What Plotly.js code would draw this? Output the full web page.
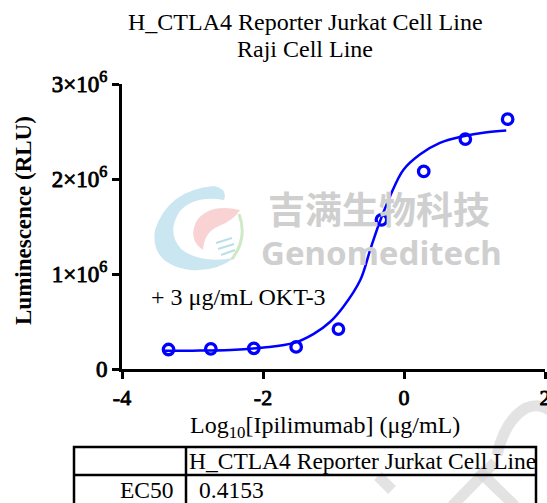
<!DOCTYPE html>
<html>
<head>
<meta charset="utf-8">
<script src="https://cdn.plot.ly/plotly-3.0.1.min.js"></script>
<style>
html,body{margin:0;padding:0;background:#fff;}
#chart{width:547px;height:503px;}
/* faux bold for serif tick labels */
#chart .xtick text, #chart .ytick text { stroke:#000; stroke-width:0.9px; stroke-linejoin:round; }
</style>
</head>
<body>
<div id="chart"></div>
<script>
// ---- data ----
var doseLog = [-3.34, -2.74, -2.13, -1.53, -0.93, -0.32, 0.28, 0.87, 1.47];
var luminescence = [205000, 212000, 218000, 232000, 420000, 1570000, 2080000, 2420000, 2630000];
var fitLog = [-3.42, -3.0, -2.46, -1.99, -1.56, -1.28, -1.05, -0.86, -0.62, -0.48, -0.36, -0.2, -0.01, 0.23, 0.51, 0.84, 1.15, 1.45];
var fitLum = [192000, 193000, 200000, 226000, 275000, 370000, 495000, 656000, 937000, 1253000, 1516000, 1814000, 2095000, 2260000, 2380000, 2450000, 2490000, 2510000];
var yTickVals = [0, 1000000, 2000000, 3000000];
var yTickText = ["0", "1×10<sup>6</sup>", "2×10<sup>6</sup>", "3×10<sup>6</sup>"];
var xTickVals = [-4, -2, 0, 2];
var xTickText = ["-4", "-2", "0", "2"];
var titleLines = ["H_CTLA4 Reporter Jurkat Cell Line", "Raji Cell Line"];
var xTitle = "Log<sub>10</sub>[Ipilimumab] (μg/mL)";
var yTitle = "Luminescence (RLU)";
var tableHeader = ["", "H_CTLA4 Reporter Jurkat Cell Line"];
var tableRowLabels = ["EC50"];
var tableRowValues = ["0.4153"];

// ---- layout geometry (pixels) ----
var W = 547, H = 503;
var L = 122, R = 2, T = 84, B = 134;
var pw = W - L - R, ph = H - T - B;
function px(x){ return (x - L) / pw; }
function py(y){ return (H - B - y) / ph; }
function path(pts){
  return pts.map(function(p, i){ return (i ? 'L' : 'M') + px(p[0]).toFixed(4) + ',' + py(p[1]).toFixed(4); }).join(' ');
}
function qpath(cmds){
  return cmds.map(function(c){
    var s = c[0];
    for (var i = 1; i < c.length; i += 2) s += (i > 1 ? ' ' : '') + px(c[i]).toFixed(4) + ',' + py(c[i+1]).toFixed(4);
    return s;
  }).join(' ');
}

var serif = "Liberation Serif";
var shapes = [];
var annotations = [];

// watermark logo (approximate)
shapes.push({type:'path', xref:'paper', yref:'paper', layer:'below', line:{width:0},
  fillcolor:'rgba(150,205,225,0.5)',
  path: qpath([['M',214,186],['Q',168,190,155,230],['Q',150,264,190,270],['Q',216,272,234,258],['Q',200,264,181,249],['Q',166,232,180,211],['Q',195,195,224,200],['Q',228,189,214,186],['Z']])});
shapes.push({type:'path', xref:'paper', yref:'paper', layer:'below', line:{width:0},
  fillcolor:'rgba(240,150,150,0.42)',
  path: qpath([['M',240,210],['Q',208,203,196,222],['Q',188,240,203,250],['Q',204,232,219,226],['Q',234,220,240,210],['Z']])});
shapes.push({type:'path', xref:'paper', yref:'paper', layer:'below', line:{color:'rgba(170,215,150,0.55)', width:3},
  path: qpath([['M',239,214],['Q',248,238,232,259]])});
shapes.push({type:'path', xref:'paper', yref:'paper', layer:'below', line:{color:'rgba(150,205,225,0.65)', width:2},
  path: path([[216,243],[232,238]]) + ' ' + path([[218,249],[234,244]]) + ' ' + path([[221,255],[235,250]])});
annotations.push({xref:'paper', yref:'paper', x:px(379), y:py(208), text:'<b>吉满生物科技</b>', showarrow:false,
  font:{family:'Noto Sans CJK SC', size:37, color:'#cfcfcf'}, xanchor:'center', yanchor:'middle'});
annotations.push({xref:'paper', yref:'paper', x:px(381), y:py(252), text:'<b>Genomeditech</b>', showarrow:false,
  font:{family:'Noto Sans', size:33, color:'#cfcfcf'}, xanchor:'center', yanchor:'middle'});

// bottom-right watermark strokes
var wm = 'rgba(215,215,215,0.7)';
shapes.push({type:'path', xref:'paper', yref:'paper', layer:'below', line:{color:wm, width:11},
  path: qpath([['M',497,455],['Q',505,420,526,408],['Q',540,402,552,412]])});
shapes.push({type:'path', xref:'paper', yref:'paper', layer:'below', line:{color:wm, width:11},
  path: path([[452,506],[495,462]])});
shapes.push({type:'path', xref:'paper', yref:'paper', layer:'below', line:{color:wm, width:11},
  path: path([[478,470],[515,506]])});
shapes.push({type:'path', xref:'paper', yref:'paper', layer:'below', line:{color:wm, width:11},
  path: path([[378,476],[392,490]])});

// title
annotations.push({xref:'paper', yref:'paper', x:px(305), y:py(22), text:titleLines[0], showarrow:false,
  xanchor:'center', yanchor:'middle', font:{family:serif, size:24, color:'#000'}});
annotations.push({xref:'paper', yref:'paper', x:px(305), y:py(49), text:titleLines[1], showarrow:false,
  xanchor:'center', yanchor:'middle', font:{family:serif, size:24, color:'#000'}});

// axis titles
annotations.push({xref:'paper', yref:'paper', x:px(325), y:py(427), text:xTitle, showarrow:false,
  xanchor:'center', yanchor:'middle', font:{family:serif, size:24, color:'#000'}});
annotations.push({xref:'paper', yref:'paper', x:px(23), y:py(221), text:'<b>' + yTitle + '</b>', showarrow:false,
  textangle:-90, xanchor:'center', yanchor:'middle', font:{family:serif, size:23, color:'#000'}});

// table
var tL = 74, tM = 186, tR = 536, tT = 447, tRow = 475, tBot = 505;
var tLine = {color:'#000', width:2.5};
shapes.push({type:'rect', xref:'paper', yref:'paper', x0:px(tL), x1:px(tR), y0:py(tT), y1:py(tBot), line:tLine});
shapes.push({type:'line', xref:'paper', yref:'paper', x0:px(tL), x1:px(tR), y0:py(tRow), y1:py(tRow), line:tLine});
shapes.push({type:'line', xref:'paper', yref:'paper', x0:px(tM), x1:px(tM), y0:py(tT), y1:py(tBot), line:tLine});
annotations.push({xref:'paper', yref:'paper', x:px(tM + 1), y:py(461), text:tableHeader[1], showarrow:false,
  xanchor:'left', yanchor:'middle', font:{family:serif, size:23.5, color:'#000'}});
annotations.push({xref:'paper', yref:'paper', x:px(tM - 10), y:py(490), text:tableRowLabels[0], showarrow:false,
  xanchor:'right', yanchor:'middle', font:{family:serif, size:23.5, color:'#000'}});
annotations.push({xref:'paper', yref:'paper', x:px(tM + 11), y:py(490), text:tableRowValues[0], showarrow:false,
  xanchor:'left', yanchor:'middle', font:{family:serif, size:23.5, color:'#000'}});

// in-plot label
annotations.push({xref:'paper', yref:'paper', x:px(149), y:py(297), text:'+ 3 μg/mL OKT-3', showarrow:false,
  xanchor:'left', yanchor:'middle', font:{family:serif, size:24, color:'#000'}});

var traces = [
  {x: fitLog, y: fitLum, type:'scatter', mode:'lines', line:{color:'#0000ff', width:2.5, shape:'spline', smoothing:1}, hoverinfo:'skip', showlegend:false},
  {x: doseLog, y: luminescence, type:'scatter', mode:'markers', marker:{symbol:'circle-open', size:10.5, color:'#0000ff', line:{width:3.3, color:'#0000ff'}}, showlegend:false, cliponaxis:false}
];

var layout = {
  width: W, height: H,
  margin: {l:L, r:R, t:T, b:B, pad:0},
  paper_bgcolor:'#fff', plot_bgcolor:'rgba(0,0,0,0)',
  font:{family:serif, color:'#000'},
  xaxis:{range:[-4, 2], tickvals:xTickVals, ticktext:xTickText, showgrid:false, zeroline:false,
    showline:true, linecolor:'#000', linewidth:3, ticks:'outside', ticklen:7, tickwidth:3, tickcolor:'#000',
    ticklabeloverflow:'allow', tickfont:{family:serif, size:22, color:'#000'}},
  yaxis:{range:[0, 3000000], tickvals:yTickVals, ticktext:yTickText, showgrid:false, zeroline:false,
    showline:true, linecolor:'#000', linewidth:3, ticks:'outside', ticklen:7, tickwidth:3, tickcolor:'#000',
    ticklabeloverflow:'allow', tickfont:{family:serif, size:23, color:'#000'}},
  shapes: shapes,
  annotations: annotations
};

Plotly.newPlot('chart', traces, layout, {displayModeBar:false, staticPlot:true});
</script>
</body>
</html>
